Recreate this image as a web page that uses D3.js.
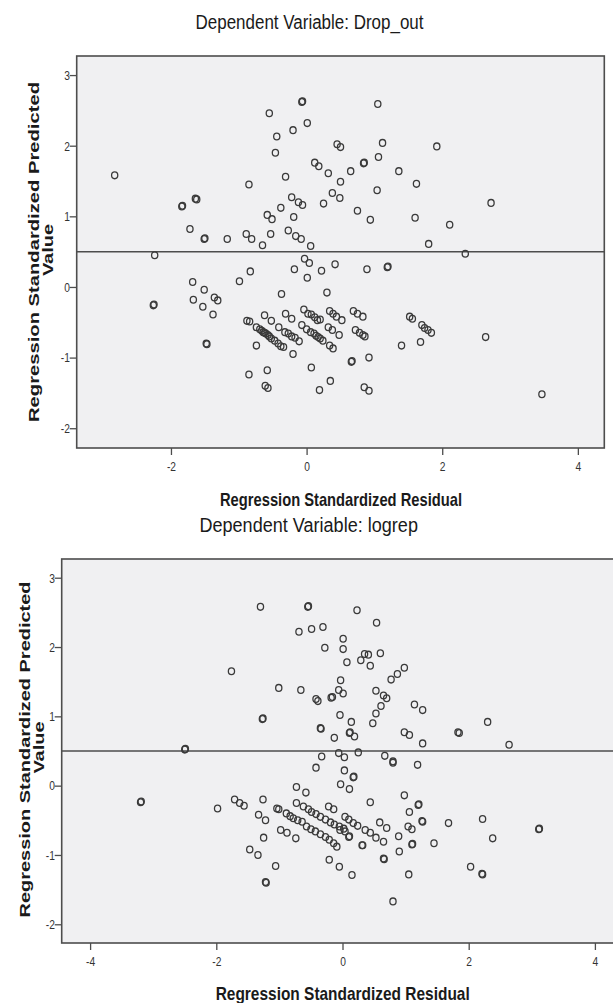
<!DOCTYPE html>
<html>
<head>
<meta charset="utf-8">
<script src="https://cdn.jsdelivr.net/npm/d3@7"></script>
<style>
body { margin: 0; background: #fff; }
svg { display: block; font-family: "Liberation Sans", Arial, sans-serif; }
</style>
</head>
<body>
<div id="chart"></div>
<script>
// residual, predicted value pairs
var dropoutPoints = [
  [-2.83, 1.58], [-2.24, 0.45], [-2.26, -0.26], [-2.25, -0.25],
  [-1.84, 1.14], [-1.83, 1.15], [-1.64, 1.25], [-1.62, 1.24], [-1.72, 0.82],
  [-1.51, 0.68], [-1.50, 0.69], [-1.17, 0.68], [-1.68, 0.07], [-1.51, -0.04],
  [-1.67, -0.18], [-1.53, -0.28], [-1.36, -0.15], [-1.31, -0.19], [-1.38, -0.39],
  [-1.48, -0.80], [-1.47, -0.81], [-0.89, 0.75], [-0.81, 0.68], [-0.65, 0.59],
  [-0.53, 0.75], [-0.58, 1.02], [-0.51, 0.96], [-0.85, 1.45], [-0.55, 2.46],
  [-0.44, 2.13], [-0.46, 1.90], [-0.31, 1.56], [-0.38, 1.12], [-0.22, 1.27],
  [-0.12, 1.20], [-0.06, 1.16], [-0.19, 0.99], [-0.27, 0.80], [-0.16, 0.72],
  [-0.08, 0.68], [0.06, 0.58], [-0.20, 2.22], [-0.07, 2.62], [-0.06, 2.63],
  [0.01, 2.32], [0.12, 1.76], [0.18, 1.71], [0.32, 1.61], [0.25, 1.18],
  [0.38, 1.33], [0.45, 2.02], [0.50, 1.98], [0.50, 1.49], [0.65, 1.64],
  [0.84, 1.75], [0.85, 1.76], [1.06, 1.84], [1.05, 2.59], [1.12, 2.04],
  [1.92, 1.99], [1.36, 1.64], [1.62, 1.46], [1.04, 1.37], [0.49, 1.26],
  [0.75, 1.08], [0.94, 0.95], [1.60, 0.98], [2.11, 0.88], [2.72, 1.19],
  [1.80, 0.61], [2.34, 0.47], [-0.99, 0.08], [-0.83, 0.22], [-0.18, 0.25],
  [-0.03, 0.40], [0.04, 0.34], [0.01, 0.13], [0.22, 0.23], [0.42, 0.32],
  [0.89, 0.25], [1.19, 0.28], [1.20, 0.29], [-0.37, -0.10], [0.30, -0.08],
  [-0.74, -0.83], [-0.85, -1.24], [-0.58, -1.18], [-0.61, -1.40], [-0.57, -1.43],
  [-0.20, -0.95], [0.07, -1.14], [0.19, -1.46], [0.35, -1.33],
  [-0.88, -0.48], [-0.84, -0.49], [-0.74, -0.57], [-0.69, -0.60], [-0.64, -0.64],
  [-0.60, -0.66], [-0.57, -0.68], [-0.52, -0.73], [-0.42, -0.80], [-0.38, -0.84],
  [-0.34, -0.85], [-0.66, -0.62], [-0.62, -0.65], [-0.55, -0.70], [-0.47, -0.76],
  [-0.62, -0.40], [-0.52, -0.48], [-0.41, -0.57], [-0.32, -0.64], [-0.27, -0.66],
  [-0.22, -0.70], [-0.17, -0.72], [-0.11, -0.77], [-0.31, -0.38], [-0.22, -0.45],
  [-0.04, -0.32], [0.02, -0.38], [0.07, -0.39], [0.12, -0.43], [0.16, -0.47],
  [0.20, -0.46], [-0.07, -0.54], [0.00, -0.60], [0.06, -0.64], [0.11, -0.66],
  [0.17, -0.71], [0.24, -0.76], [0.14, -0.69], [0.20, -0.73],
  [0.34, -0.34], [0.39, -0.38], [0.44, -0.42], [0.52, -0.47],
  [0.32, -0.57], [0.38, -0.61], [0.48, -0.68], [0.34, -0.83], [0.39, -0.87],
  [0.69, -0.34], [0.75, -0.38], [0.83, -0.42], [0.72, -0.61], [0.78, -0.65],
  [0.83, -0.68], [0.86, -0.70], [0.66, -1.06], [0.67, -1.05], [0.92, -1.00],
  [0.85, -1.42], [0.92, -1.47], [1.40, -0.83], [1.52, -0.42], [1.56, -0.45],
  [1.70, -0.54], [1.74, -0.58], [1.79, -0.61], [1.84, -0.65], [1.68, -0.78],
  [2.64, -0.71], [3.47, -1.52]
];

var logrepPoints = [
  [-3.20, -0.24], [-3.19, -0.23], [-2.50, 0.52], [-2.49, 0.53], [-1.98, -0.33],
  [-1.76, 1.65], [-1.71, -0.20], [-1.63, -0.25], [-1.56, -0.29], [-1.30, 2.58],
  [-1.27, 0.96], [-1.26, 0.97], [-1.26, -0.20], [-1.33, -0.42], [-1.22, -0.50],
  [-1.25, -0.75], [-1.47, -0.92], [-1.34, -1.00], [-1.22, -1.39], [-1.21, -1.40],
  [-1.06, -1.16], [-1.01, 1.41], [-0.66, 1.38], [-0.55, 2.58], [-0.54, 2.59],
  [-0.69, 2.22], [-0.49, 2.26], [-0.31, 2.29], [-0.28, 1.99], [-0.42, 1.25],
  [-0.39, 1.22], [-0.35, 0.83], [-0.34, 0.82], [-0.18, 1.27], [-0.16, 1.28],
  [-0.13, 0.69], [-0.33, 0.42], [-0.42, 0.26], [-0.73, -0.02], [-0.58, -0.10],
  [-0.73, -0.25], [-1.04, -0.33], [-1.01, -0.34],
  [-0.89, -0.40], [-0.83, -0.44], [-0.78, -0.47], [-0.71, -0.50], [-0.64, -0.52],
  [-0.98, -0.64], [-0.88, -0.68], [-0.74, -0.76],
  [-0.62, -0.30], [-0.54, -0.34], [-0.49, -0.38], [-0.42, -0.41], [-0.35, -0.45],
  [-0.27, -0.49], [-0.19, -0.53], [-0.13, -0.56], [-0.05, -0.59], [0.02, -0.62],
  [-0.57, -0.59], [-0.50, -0.63], [-0.43, -0.66], [-0.35, -0.70], [-0.27, -0.74],
  [-0.21, -0.78], [-0.14, -0.83], [-0.09, -0.88], [-0.22, -0.30], [-0.14, -0.34],
  [0.04, -0.45], [0.10, -0.49], [0.17, -0.54], [0.24, -0.58],
  [-0.04, -0.64], [0.04, -0.66], [0.11, -0.73], [0.10, -0.74],
  [0.36, -0.64], [0.44, -0.68], [0.53, -0.75], [0.65, -0.81], [0.31, -0.86],
  [0.32, -0.86], [0.59, -0.53], [0.70, -0.61], [0.44, -0.24],
  [-0.21, -1.07], [-0.05, -1.17], [0.15, -1.29], [0.66, -1.06], [0.65, -1.05],
  [0.89, -0.73], [0.90, -0.95], [1.05, -1.28], [1.04, -0.59], [1.10, -0.63],
  [1.10, -0.85], [1.11, -0.84], [1.06, -0.38], [0.98, -0.14], [1.21, -0.27],
  [1.20, -0.28], [1.26, -0.51], [1.27, -0.52], [1.45, -0.83], [0.80, 0.33],
  [1.19, 0.30], [0.03, 0.22], [0.18, 0.13], [-0.03, 0.02], [0.11, -0.05],
  [0.23, 2.53], [0.54, 2.35], [0.01, 2.12], [0.01, 1.97], [0.07, 1.78],
  [0.29, 1.81], [0.35, 1.90], [0.41, 1.89], [0.44, 1.73], [0.60, 1.91],
  [0.77, 1.53], [0.87, 1.61], [0.98, 1.70], [-0.03, 1.52], [-0.06, 1.38],
  [0.01, 1.33], [0.53, 1.37], [0.65, 1.30], [0.70, 1.26], [0.61, 1.15],
  [0.53, 1.04], [0.48, 0.90], [1.14, 1.17], [1.27, 1.09], [-0.04, 1.02],
  [0.14, 0.92], [0.11, 0.76], [0.12, 0.77], [0.19, 0.71], [0.25, 0.48],
  [0.98, 0.77], [1.06, 0.73], [1.27, 0.61], [1.83, 0.77], [1.85, 0.76],
  [2.30, 0.92], [2.64, 0.59], [-0.06, 0.47], [0.03, 0.41], [0.67, 0.43],
  [0.80, 0.35], [0.17, 0.12], [1.68, -0.54], [2.22, -0.48], [2.38, -0.76],
  [3.11, -0.63], [3.12, -0.62], [2.03, -1.17], [2.21, -1.27], [2.22, -1.28],
  [0.80, -1.67]
];

var topXTicks = [-2, 0, 2, 4];
var bottomXTicks = [-4, -2, 0, 2, 4];
var yTicks = [-2, -1, 0, 1, 2, 3];
var refValue = 0.5;
var titles = ["Dependent Variable: Drop_out", "Dependent Variable: logrep"];
var xTitle = "Regression Standardized Residual";
var yTitle = ["Regression Standardized Predicted", "Value"];

var svg = d3.select("#chart").append("svg")
  .attr("width", 613)
  .attr("height", 1003);

var panels = [
  { data: dropoutPoints, xTicks: topXTicks, title: titles[0],
    xDomain: [-3.39, 4.39], yDomain: [-2.28, 3.27],
    left: 76.7, right: 604.3, top: 56, bottom: 448,
    titleX: 309.5, titleY: 29.3, titleW: 228,
    xtX: 341, xtY: 506, xtW: 242,
    ylX: 39, ylY: 252, ylLen: 340 },
  { data: logrepPoints, xTicks: bottomXTicks, title: titles[1],
    xDomain: [-4.45, 4.45], yDomain: [-2.27, 3.27],
    left: 61.7, right: 623.3, top: 559, bottom: 943,
    titleX: 308.7, titleY: 531.7, titleW: 218.5,
    xtX: 342.7, xtY: 1000, xtW: 254,
    ylX: 29.5, ylY: 749.5, ylLen: 336 }
];

function drawPanel(p) {
  var x = d3.scaleLinear().domain(p.xDomain).range([p.left, p.right]);
  var y = d3.scaleLinear().domain(p.yDomain).range([p.bottom, p.top]);
  var g = svg.append("g");

  g.append("rect")
    .attr("x", p.left).attr("y", p.top)
    .attr("width", p.right - p.left).attr("height", p.bottom - p.top)
    .attr("fill", "#f0f0f2")
    .attr("stroke", "#4d4d4d")
    .attr("stroke-width", 1.6);

  g.append("line")
    .attr("x1", p.left).attr("x2", p.right)
    .attr("y1", y(refValue)).attr("y2", y(refValue))
    .attr("stroke", "#4d4d4d")
    .attr("stroke-width", 1.5);

  g.selectAll("ellipse")
    .data(p.data)
    .enter()
    .append("ellipse")
    .attr("cx", d => x(d[0]))
    .attr("cy", d => y(d[1]))
    .attr("rx", 3.1)
    .attr("ry", 3.4)
    .attr("fill", "none")
    .attr("stroke", "#3a3a3a")
    .attr("stroke-width", 1.3);

  var xAxis = g.append("g")
    .attr("transform", `translate(0,${p.bottom})`)
    .call(d3.axisBottom(x).tickValues(p.xTicks).tickSize(7).tickSizeOuter(0)
      .tickPadding(6).tickFormat(d => String(d)));
  var yAxis = g.append("g")
    .attr("transform", `translate(${p.left},0)`)
    .call(d3.axisLeft(y).tickValues(yTicks).tickSize(7).tickSizeOuter(0)
      .tickPadding(2).tickFormat(d => String(d)));

  [xAxis, yAxis].forEach(function(a) {
    a.select(".domain").remove();
    a.selectAll(".tick line").attr("stroke", "#4d4d4d").attr("stroke-width", 1.3);
    a.selectAll(".tick text")
      .attr("font-size", 13.5)
      .attr("font-family", "'Liberation Sans', Arial, sans-serif")
      .attr("fill", "#333")
      .attr("transform", "scale(0.76,1)");
  });

  g.append("text")
    .attr("x", p.titleX).attr("y", p.titleY)
    .attr("text-anchor", "middle")
    .attr("font-size", 20)
    .attr("fill", "#1a1a1a")
    .attr("textLength", p.titleW)
    .attr("lengthAdjust", "spacingAndGlyphs")
    .text(p.title);

  g.append("text")
    .attr("x", p.xtX).attr("y", p.xtY)
    .attr("text-anchor", "middle")
    .attr("font-size", 19)
    .attr("font-weight", "bold")
    .attr("fill", "#1a1a1a")
    .attr("textLength", p.xtW)
    .attr("lengthAdjust", "spacingAndGlyphs")
    .text(xTitle);

  g.append("text")
    .attr("transform", `translate(${p.ylX},${p.ylY}) scale(0.77,1) rotate(-90)`)
    .attr("text-anchor", "middle")
    .attr("font-size", 20)
    .attr("font-weight", "bold")
    .attr("fill", "#1a1a1a")
    .attr("textLength", p.ylLen)
    .attr("lengthAdjust", "spacingAndGlyphs")
    .text(yTitle[0]);

  g.append("text")
    .attr("transform", `translate(${p.ylX + 14},${p.ylY - 2}) scale(0.77,1) rotate(-90)`)
    .attr("text-anchor", "middle")
    .attr("font-size", 20)
    .attr("font-weight", "bold")
    .attr("fill", "#1a1a1a")
    .text(yTitle[1]);
}

panels.forEach(drawPanel);
</script>
</body>
</html>
